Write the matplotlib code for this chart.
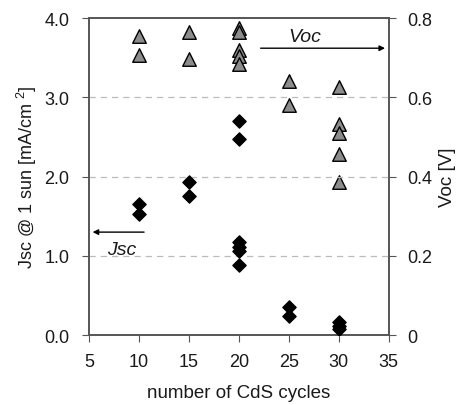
import matplotlib

matplotlib.use("Agg")
import matplotlib.pyplot as plt

plt.rcParams["font.family"] = ["Liberation Sans", "DejaVu Sans"]
plt.rcParams["mathtext.fontset"] = "custom"
plt.rcParams["mathtext.rm"] = "Liberation Sans"

# Jsc (left axis) per CdS cycle count
jsc_cycles = [10, 10, 15, 15, 20, 20, 20, 20, 20, 20, 25, 25, 30, 30, 30]
jsc_values = [1.65, 1.53, 1.93, 1.76, 2.70, 2.47, 1.18, 1.11, 1.06, 0.88, 0.36, 0.24, 0.17, 0.12, 0.08]

# Voc (right axis) per CdS cycle count
voc_cycles = [10, 10, 15, 15, 20, 20, 20, 20, 20, 25, 25, 30, 30, 30, 30, 30]
voc_values = [0.754, 0.707, 0.766, 0.698, 0.776, 0.764, 0.720, 0.705, 0.684,
              0.642, 0.580, 0.625, 0.532, 0.511, 0.457, 0.387]

GRAY = "#555555"
TXT = "#1a1a1a"

fig = plt.figure(figsize=(4.58, 4.06), dpi=100)
ax = fig.add_axes([0.194, 0.172, 0.655, 0.781])
ax2 = ax.twinx()

ax.set_xlim(5, 35)
ax.set_ylim(0, 4.0)
ax2.set_ylim(0, 0.8)
ax.set_xticks([5, 10, 15, 20, 25, 30, 35])
ax.set_yticks([0, 1, 2, 3, 4])
ax.set_yticklabels(["0.0", "1.0", "2.0", "3.0", "4.0"])
ax2.set_yticks([0, 0.2, 0.4, 0.6, 0.8])
ax2.set_yticklabels(["0", "0.2", "0.4", "0.6", "0.8"])

for y in [1, 2, 3]:
    ax.axhline(y, color="#bbbbbb", ls=(0, (5, 4)), lw=0.9, zorder=0)

ax2.scatter(voc_cycles, voc_values, marker="^", s=95, color="#8c8c8c",
            edgecolors="black", linewidths=1.0, zorder=3)
ax.scatter(jsc_cycles, jsc_values, marker="D", s=45, color="black", zorder=3)
ax.set_zorder(ax2.get_zorder() + 1)
ax.patch.set_visible(False)

for a in (ax, ax2):
    for sp in a.spines.values():
        sp.set_color(GRAY)
        sp.set_linewidth(1.2)
    a.tick_params(colors=GRAY, labelcolor=TXT, labelsize=13, direction="out", length=5)
ax.tick_params(axis="x", pad=8)
ax.tick_params(axis="y", pad=9)
ax2.tick_params(axis="y", pad=8)

ax.set_xlabel("number of CdS cycles", fontsize=13.5, color=TXT, labelpad=10)
ax.set_ylabel("Jsc @ 1 sun [mA/cm $^2$]", fontsize=13, color=TXT, labelpad=4)
ax2.set_ylabel("Voc [V]", fontsize=13.5, color=TXT, labelpad=5)

ax.annotate("", xy=(34.9, 3.62), xytext=(21.9, 3.62),
            arrowprops=dict(arrowstyle="-|>", color="black", lw=1.0, mutation_scale=8))
ax.text(26.6, 3.77, "Voc", style="italic", fontsize=14, ha="center", va="center", color=TXT)
ax.annotate("", xy=(5.1, 1.30), xytext=(10.8, 1.30),
            arrowprops=dict(arrowstyle="-|>", color="black", lw=1.0, mutation_scale=8))
ax.text(8.3, 1.08, "Jsc", style="italic", fontsize=14, ha="center", va="center", color=TXT)

fig.savefig("out.png", dpi=100)
